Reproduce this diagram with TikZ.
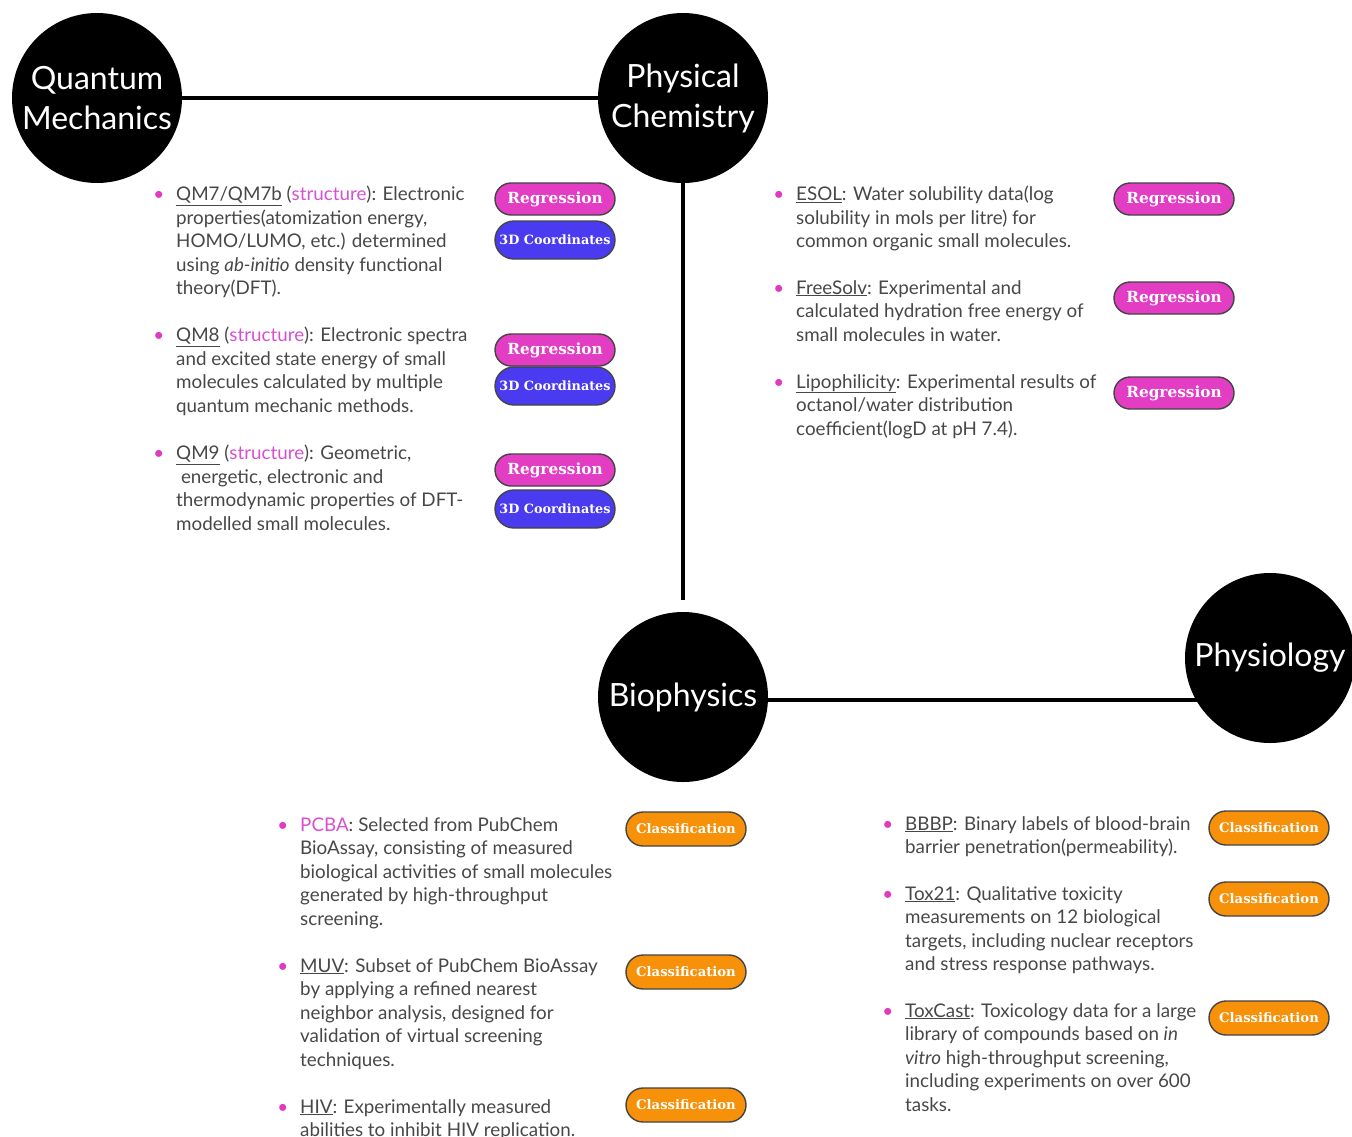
\documentclass[tikz,border=0pt]{standalone}
\usepackage{fontspec}
\setmainfont{Lato}
\newfontfamily\badgefont{DejaVu Serif}
\definecolor{txt}{HTML}{474747}
\definecolor{lnk}{HTML}{D650D0}
\definecolor{bul}{HTML}{E03BC0}
\definecolor{regc}{HTML}{E33DC4}
\definecolor{crdc}{HTML}{4A3BF0}
\definecolor{clsc}{HTML}{F7910A}
\definecolor{bord}{HTML}{444444}
\newcommand{\ds}[1]{\underline{#1}}
\newcommand{\stl}{\textcolor{lnk}{structure}}
\newcommand{\bl}{\llap{\textcolor{bul}{\textbullet}\hspace{12pt}}}
\begin{document}
\begin{tikzpicture}[x=1pt,y=-1pt,
  hub/.style={circle,fill=black,minimum size=170pt,inner sep=0pt,text=white,align=center,font=\fontsize{32}{40}\selectfont},
  badge/.style={draw=bord,line width=1.4pt,minimum width=120pt,inner sep=0pt,text=white},
  reg/.style={badge,fill=regc,minimum height=32pt,rounded corners=16pt,font=\badgefont\bfseries\fontsize{15.3}{18}\selectfont},
  crd/.style={badge,fill=crdc,minimum height=38pt,rounded corners=19pt,font=\badgefont\bfseries\fontsize{12.8}{15}\selectfont},
  cls/.style={badge,fill=clsc,minimum height=34pt,rounded corners=17pt,font=\badgefont\bfseries\fontsize{13.2}{15}\selectfont},
  entry/.style={anchor=north west,inner sep=0pt,align=left,text=txt,font=\fontsize{18.8}{23.5}\selectfont},
  link/.style={line width=3.5pt,draw=black}
]
\useasboundingbox (0,0) rectangle (1352,1136);

% hubs
\node[hub] (qm) at (97,98) {Quantum\\Mechanics};
\node[hub] (pc) at (683,98) {Physical\\Chemistry};
\node[hub] (bio) at (683,697) {Biophysics};
\node[hub] (phy) at (1270,658) {Physiology};

% connectors
\draw[link] (qm) -- (pc);
\draw[link,shorten >=12pt] (pc) -- (bio);
\draw[link] (bio.-2) -- (bio.-2 -| phy.center);

% Quantum mechanics entries
\node[entry] (e1) at (176,186) {\bl\ds{QM7/QM7b} (\stl): Electronic\\properties(atomization energy,\\HOMO/LUMO, etc.) determined\\using \textit{ab-initio} density functional\\theory(DFT).};
\node[entry] (e2) at (176,327) {\bl\ds{QM8} (\stl): Electronic spectra\\and excited state energy of small\\molecules calculated by multiple\\quantum mechanic methods.};
\node[entry] (e3) at (176,445) {\bl\ds{QM9} (\stl): Geometric,\\\ energetic, electronic and\\thermodynamic properties of DFT-\\modelled small molecules.};

\node[reg] (r1) at (555,199) {Regression};
\node[crd] (c1) at (555,240) {3D Coordinates};
\node[reg] (r2) at (555,350) {Regression};
\node[crd] (c2) at (555,386) {3D Coordinates};
\node[reg] (r3) at (555,470) {Regression};
\node[crd] (c3) at (555,509) {3D Coordinates};

% Physical chemistry entries
\node[entry] (e4) at (796,186) {\bl\ds{ESOL}: Water solubility data(log\\solubility in mols per litre) for\\common organic small molecules.};
\node[entry] (e5) at (796,280) {\bl\ds{FreeSolv}: Experimental and\\calculated hydration free energy of\\small molecules in water.};
\node[entry] (e6) at (796,374) {\bl\ds{Lipophilicity}: Experimental results of\\octanol/water distribution\\coefficient(logD at pH 7.4).};

\node[reg] (r4) at (1174,199) {Regression};
\node[reg] (r5) at (1174,298) {Regression};
\node[reg] (r6) at (1174,393) {Regression};

% Biophysics entries
\node[entry] (e7) at (300,817) {\bl\textcolor{lnk}{PCBA}: Selected from PubChem\\BioAssay, consisting of measured\\biological activities of small molecules\\generated by high-throughput\\screening.};
\node[entry] (e8) at (300,958) {\bl\ds{MUV}: Subset of PubChem BioAssay\\by applying a refined nearest\\neighbor analysis, designed for\\validation of virtual screening\\techniques.};
\node[entry] (e9) at (300,1099) {\bl\ds{HIV}: Experimentally measured\\abilities to inhibit HIV replication.};

\node[cls] (k1) at (686,829) {Classification};
\node[cls] (k2) at (686,972) {Classification};
\node[cls] (k3) at (686,1105) {Classification};

% Physiology entries
\node[entry] (e10) at (905,816) {\bl\ds{BBBP}: Binary labels of blood-brain\\barrier penetration(permeability).};
\node[entry] (e11) at (905,886) {\bl\ds{Tox21}: Qualitative toxicity\\measurements on 12 biological\\targets, including nuclear receptors\\and stress response pathways.};
\node[entry] (e12) at (905,1003) {\bl\ds{ToxCast}: Toxicology data for a large\\library of compounds based on \textit{in}\\\textit{vitro} high-throughput screening,\\including experiments on over 600\\tasks.};

\node[cls] (k4) at (1269,828) {Classification};
\node[cls] (k5) at (1269,899) {Classification};
\node[cls] (k6) at (1269,1018) {Classification};
\end{tikzpicture}
\end{document}
